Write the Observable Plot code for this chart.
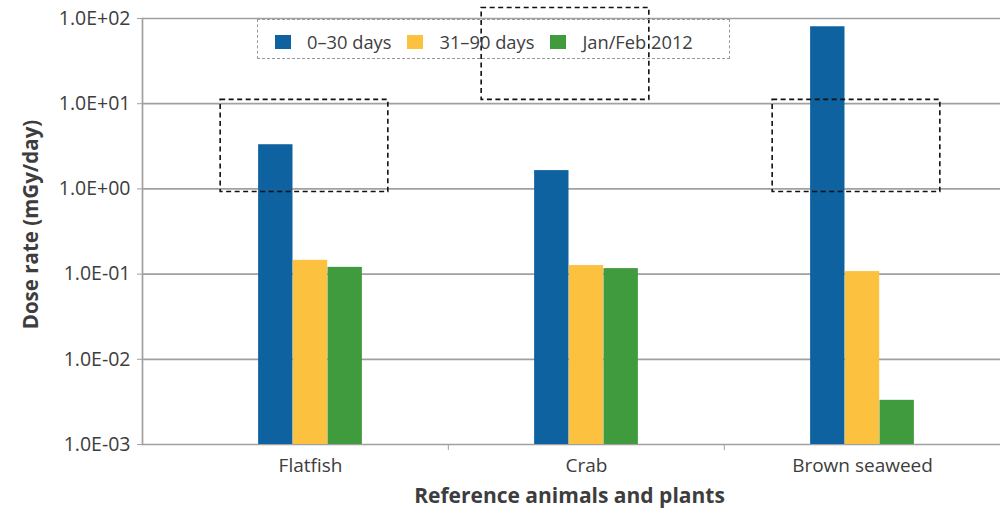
<!DOCTYPE html>
<html>
<head>
<meta charset="utf-8">
<script src="https://cdn.jsdelivr.net/npm/d3@7"></script>
<script src="https://cdn.jsdelivr.net/npm/@observablehq/plot@0.6"></script>
<style>
  html, body { margin: 0; padding: 0; background: #fff; }
  #wrap { position: relative; width: 1000px; height: 509px; font-family: "Open Sans", sans-serif; }
  #legend {
    position: absolute; left: 257px; top: 19px; width: 473px; height: 40px;
    box-sizing: border-box; border: 1.5px dashed #999;
    display: flex; align-items: center; padding: 5px 0 0 17px;
    font-size: 18.3px; color: #404040;
  }
  #legend .sw { width: 16px; height: 14px; margin-right: 16px; flex: none; }
  #legend .item { display: flex; align-items: center; margin-right: 16px; white-space: nowrap; }
</style>
</head>
<body>
<div id="wrap"></div>
<script>
// ---- data ----
const categories = ["Flatfish", "Crab", "Brown seaweed"];
const seriesNames = ["0–30 days", "31–90 days", "Jan/Feb 2012"];
const dose0to30 = [3.3, 1.64, 80];
const dose31to90 = [0.145, 0.126, 0.107];
const doseJanFeb2012 = [0.12, 0.116, 0.0033];
const yTickValues = [1e-3, 1e-2, 1e-1, 1e0, 1e1, 1e2];
const boxCategories = ["Flatfish", "Crab", "Brown seaweed"];
const boxLow = [0.92, 11.1, 0.92];
const boxHigh = [11.1, 133, 11.1];

const palette = ["#0f62a0", "#fbc13f", "#409a3e"];
const seriesValues = [dose0to30, dose31to90, doseJanFeb2012];

const rows = categories.flatMap((c, i) =>
  seriesNames.map((s, j) => ({category: c, series: s, value: seriesValues[j][i]})));
const boxes = boxCategories.map((c, i) => ({category: c, low: boxLow[i], high: boxHigh[i]}));

const W = 1000, H = 509;
const xRange = [171, 1000];
const band = (xRange[1] - xRange[0]) / categories.length;
const barW = 34.7;
const barInset = (band - barW) / 2;
const boxInset = (band - 168) / 2;
const gray = "#a0a0a0";
const txt = "#3d3d3d";

const fmt = d => {
  const e = Math.round(Math.log10(d));
  return "1.0E" + (e < 0 ? "-" : "+") + String(Math.abs(e)).padStart(2, "0");
};

const plot = Plot.plot({
  width: W, height: H,
  marginLeft: 142, marginRight: 0, marginTop: 18, marginBottom: 65,
  style: {fontFamily: "Open Sans, sans-serif", fontSize: "17px", color: txt, background: "#fff"},
  x: {type: "band", domain: categories, range: xRange, padding: 0},
  y: {type: "log", domain: [yTickValues[0], yTickValues[yTickValues.length - 1]]},
  color: {domain: seriesNames, range: palette},
  marks: [
    Plot.ruleY(yTickValues, {stroke: gray, strokeWidth: 1.7}),
    Plot.frame({anchor: "left", stroke: gray, strokeWidth: 1.7}),
    ...seriesNames.map((s, j) => Plot.barY(rows.filter(d => d.series === s), {
      x: "category", y1: yTickValues[0], y2: "value", fill: "series",
      insetLeft: barInset, insetRight: barInset, dx: (j - 1) * barW
    })),
    Plot.axisY({ticks: yTickValues, tickFormat: fmt, tickSize: 5, tickPadding: 7,
      stroke: gray, fill: txt, fontSize: 19.5, label: null}),
    Plot.axisX({tickSize: 0, tickPadding: 14, fill: txt, fontSize: 19, label: null}),
    Plot.axisX({ticks: categories.slice(1), tickSize: 6, tickFormat: () => "",
      stroke: gray, dx: -band / 2, label: null}),
    Plot.barY(boxes.filter(d => d.category !== "Crab"), {
      x: "category", y1: "low", y2: "high", fill: "none", stroke: "#111",
      strokeWidth: 1.6, strokeDasharray: "5,3.5", insetLeft: boxInset, insetRight: boxInset, dx: -6
    }),
    Plot.barY(boxes.filter(d => d.category === "Crab"), {
      x: "category", y1: "low", y2: "high", fill: "none", stroke: "#111",
      strokeWidth: 1.6, strokeDasharray: "5,3.5", insetLeft: boxInset, insetRight: boxInset, dx: -21
    }),
    Plot.text(["Dose rate (mGy/day)"], {frameAnchor: "left", textAnchor: "middle", rotate: -90, dx: -111, dy: -7,
      fontWeight: "bold", fontSize: 20.5, fill: txt}),
    Plot.text(["Reference animals and plants"], {frameAnchor: "bottom", lineAnchor: "top", dy: 44, dx: -2,
      fontWeight: "bold", fontSize: 21, fill: txt})
  ]
});

const wrap = document.getElementById("wrap");
wrap.appendChild(plot);

const color = plot.scale("color");
const legend = document.createElement("div");
legend.id = "legend";
seriesNames.forEach((s, j) => {
  const item = document.createElement("div");
  item.className = "item";
  const sw = document.createElement("span");
  sw.className = "sw";
  sw.style.background = color.range[j];
  const label = document.createElement("span");
  label.textContent = s;
  item.appendChild(sw);
  item.appendChild(label);
  legend.appendChild(item);
});
wrap.appendChild(legend);
</script>
</body>
</html>
